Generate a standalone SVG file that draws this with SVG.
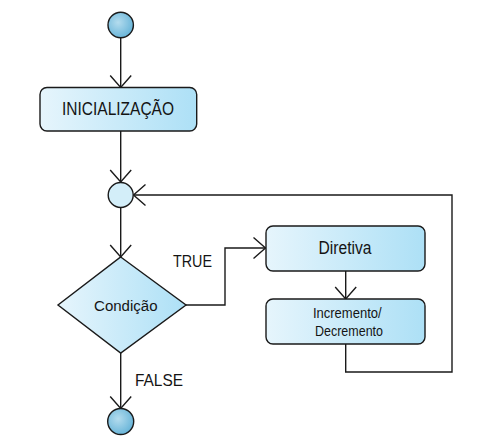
<svg xmlns="http://www.w3.org/2000/svg" width="493" height="447" viewBox="0 0 493 447">
<defs>
<linearGradient id="boxGrad" x1="0" y1="0" x2="1" y2="0">
<stop offset="0" stop-color="#e6f5fc"/>
<stop offset="1" stop-color="#ade0f6"/>
</linearGradient>
<radialGradient id="termGrad" cx="0.4" cy="0.4" r="0.7">
<stop offset="0" stop-color="#b4dcee"/>
<stop offset="1" stop-color="#5fb0d6"/>
</radialGradient>
<marker id="arr" markerUnits="userSpaceOnUse" markerWidth="30" markerHeight="30" viewBox="-15 -15 30 30" refX="0" refY="0" orient="auto">
<path d="M-12,-10.5 L0,0 L-12,10.5" fill="none" stroke="#1a1a1a" stroke-width="1.4"/>
</marker>
</defs>
<style>
.box{fill:url(#boxGrad);stroke:#1a1a1a;stroke-width:1.4}
.term{fill:url(#termGrad);stroke:#1a1a1a;stroke-width:1.4}
.merge{fill:#d3eef9;stroke:#1a1a1a;stroke-width:1.4}
.edge{fill:none;stroke:#1a1a1a;stroke-width:1.4}
text{font-family:"Liberation Sans",Arial,sans-serif;fill:#141414}
</style>
<rect width="493" height="447" fill="#ffffff"/>
<g id="connectors">
<line class="edge" x1="120.7" y1="38" x2="120.7" y2="87.5" marker-end="url(#arr)"/>
<line class="edge" x1="120.7" y1="131" x2="120.7" y2="182" marker-end="url(#arr)"/>
<line class="edge" x1="120.7" y1="207.5" x2="120.7" y2="257" marker-end="url(#arr)"/>
<polyline class="edge" points="186,305 225,305 225,248 265.5,248" marker-end="url(#arr)"/>
<line class="edge" x1="345.7" y1="271" x2="345.7" y2="299" marker-end="url(#arr)"/>
<polyline class="edge" points="345.7,344 345.7,372 452,372 452,195 133.5,195" marker-end="url(#arr)"/>
<line class="edge" x1="120.7" y1="353" x2="120.7" y2="408.5" marker-end="url(#arr)"/>
<text x="173" y="267" font-size="17" textLength="39" lengthAdjust="spacingAndGlyphs">TRUE</text>
<text x="135" y="386" font-size="17" textLength="48" lengthAdjust="spacingAndGlyphs">FALSE</text>
</g>
<g id="start">
<circle class="term" cx="120.7" cy="25" r="12.7"/>
</g>
<g id="init">
<rect class="box" x="40" y="87.5" width="156.7" height="43.5" rx="7"/>
<text x="118" y="115" font-size="17.5" text-anchor="middle" textLength="112" lengthAdjust="spacingAndGlyphs">INICIALIZAÇÃO</text>
</g>
<g id="merge">
<circle class="merge" cx="120.7" cy="195" r="12.5"/>
</g>
<g id="cond">
<polygon class="box" points="120.7,257 186,305 120.7,353 58,305"/>
<text x="125.8" y="311" font-size="15.5" text-anchor="middle" textLength="63.5" lengthAdjust="spacingAndGlyphs">Condição</text>
</g>
<g id="diretiva">
<rect class="box" x="266" y="226" width="159" height="45" rx="7"/>
<text x="345" y="254" font-size="17.5" text-anchor="middle" textLength="53" lengthAdjust="spacingAndGlyphs">Diretiva</text>
</g>
<g id="incremento">
<rect class="box" x="266" y="299" width="159" height="45" rx="7"/>
<text x="347.3" y="318" font-size="15" text-anchor="middle" textLength="68.7" lengthAdjust="spacingAndGlyphs">Incremento/</text>
<text x="349" y="336" font-size="15" text-anchor="middle" textLength="68" lengthAdjust="spacingAndGlyphs">Decremento</text>
</g>
<g id="end">
<circle class="term" cx="120.7" cy="421.5" r="13"/>
</g>
</svg>
